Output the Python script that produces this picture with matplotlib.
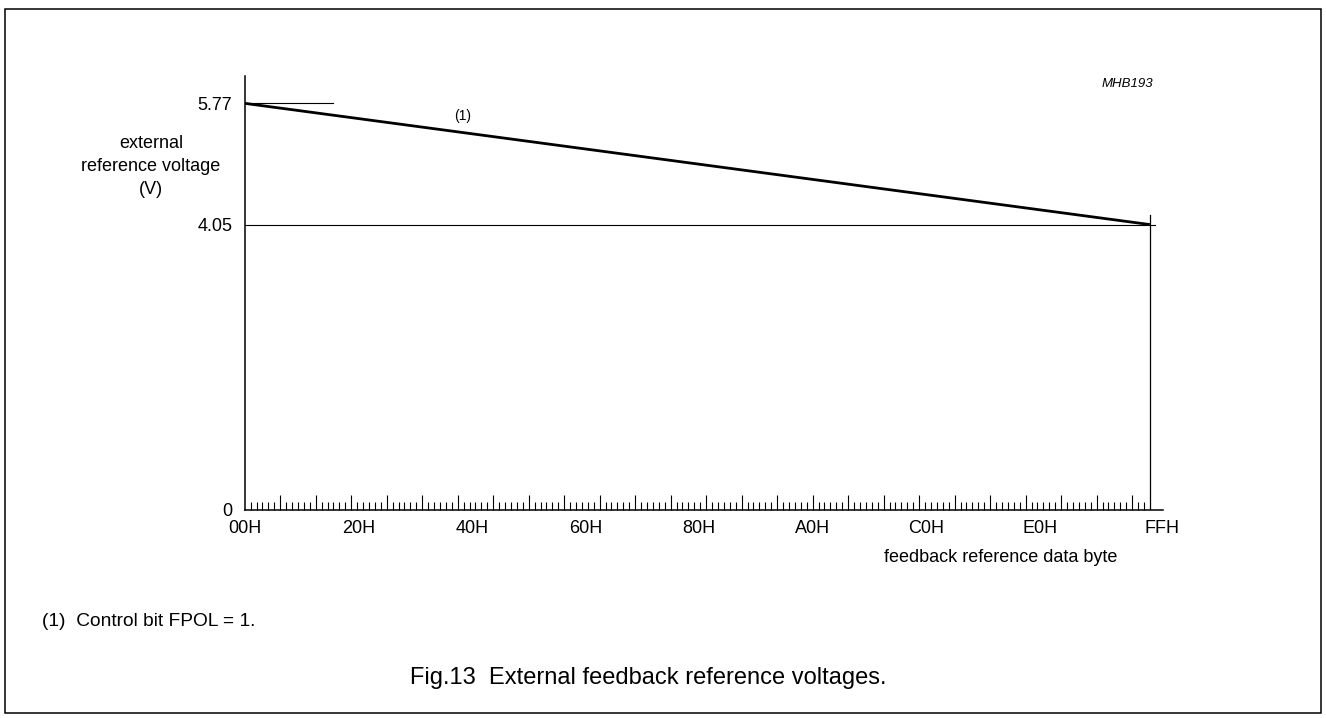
import numpy as np
import matplotlib
matplotlib.use("Agg")
import matplotlib.pyplot as plt
import matplotlib.transforms as mtransforms
from matplotlib.patches import Rectangle

plt.rcParams['font.family'] = ['Liberation Sans', 'DejaVu Sans']

# data
codes = [0x00, 0xFF]
voltage = [5.77, 4.05]
level_ticks = [0, 4.05, 5.77]
level_labels = ['0', '4.05', '5.77']
hex_ticks = [0x00, 0x20, 0x40, 0x60, 0x80, 0xA0, 0xC0, 0xE0, 0xFF]
hex_labels = ['00H', '20H', '40H', '60H', '80H', 'A0H', 'C0H', 'E0H', 'FFH']

fig = plt.figure(figsize=(13.26, 7.18), dpi=100)
W, H = 1326, 718

# frame around the whole figure
fig.patches.append(Rectangle((4.5 / W, 1 - 713 / H), (1321 - 4.5) / W, (713 - 9) / H,
                             transform=fig.transFigure, fill=False,
                             edgecolor='black', linewidth=1.1))

ax = fig.add_axes([244.7 / W, 1 - 510 / H, (1163 - 244.7) / W, (510 - 76) / H])
ax.set_xlim(0, 258.7)
ax.set_ylim(0, 6.158)
for s in ['top', 'right']:
    ax.spines[s].set_visible(False)
for s in ['left', 'bottom']:
    ax.spines[s].set_linewidth(1.1)

# main characteristic
ax.plot(codes, voltage, color='black', linewidth=2.0, solid_capstyle='butt')
# reference level lines
ax.plot([0, 24.9], [voltage[0], voltage[0]], color='black', linewidth=0.8)
ax.plot([0, 256.4], [voltage[1], voltage[1]], color='black', linewidth=0.8)
ax.plot([codes[1], codes[1]], [0, 4.18], color='black', linewidth=0.9)

# ruler ticks on the x axis
major = np.arange(10, 255, 10)
minor = [k * 10 / 6 for k in range(1, 154) if k % 6 != 0 and k * 10 / 6 < 255]
ax.set_xticks(major)
ax.set_xticks(minor, minor=True)
ax.tick_params(axis='x', which='major', direction='in', length=11, width=0.8, labelbottom=False)
ax.tick_params(axis='x', which='minor', direction='in', length=6, width=0.8)

# y levels
ax.set_yticks(level_ticks)
ax.set_yticklabels(level_labels)
ax.tick_params(axis='y', length=0, pad=9, labelsize=13)

# hex labels
sec = ax.secondary_xaxis('bottom')
sec.set_xticks(hex_ticks)
sec.set_xticklabels(hex_labels)
sec.tick_params(length=0, pad=7, labelsize=13)
sec.spines['bottom'].set_visible(False)
ffh = sec.get_xticklabels()[-1]
ffh.set_transform(ffh.get_transform() + mtransforms.ScaledTranslation(12 / 100, 0, fig.dpi_scale_trans))

ax.text(61.5, 5.59, '(1)', fontsize=10, ha='center', va='center')
ax.text(248.8, 6.04, 'MHB193', fontsize=9.5, style='italic', ha='center', va='center')

fig.text(151 / W, 1 - 166.5 / H, 'external\nreference voltage\n(V)', fontsize=13,
         ha='center', va='center', multialignment='center', linespacing=1.5)
fig.text(1117 / W, 1 - 557 / H, 'feedback reference data byte', fontsize=13,
         ha='right', va='center')
fig.text(41.7 / W, 1 - 621.7 / H, '(1)  Control bit FPOL = 1.', fontsize=13.8,
         ha='left', va='center')
fig.text(410 / W, 1 - 678 / H, 'Fig.13  External feedback reference voltages.', fontsize=17,
         ha='left', va='center')

fig.savefig('out.png', dpi=100)
